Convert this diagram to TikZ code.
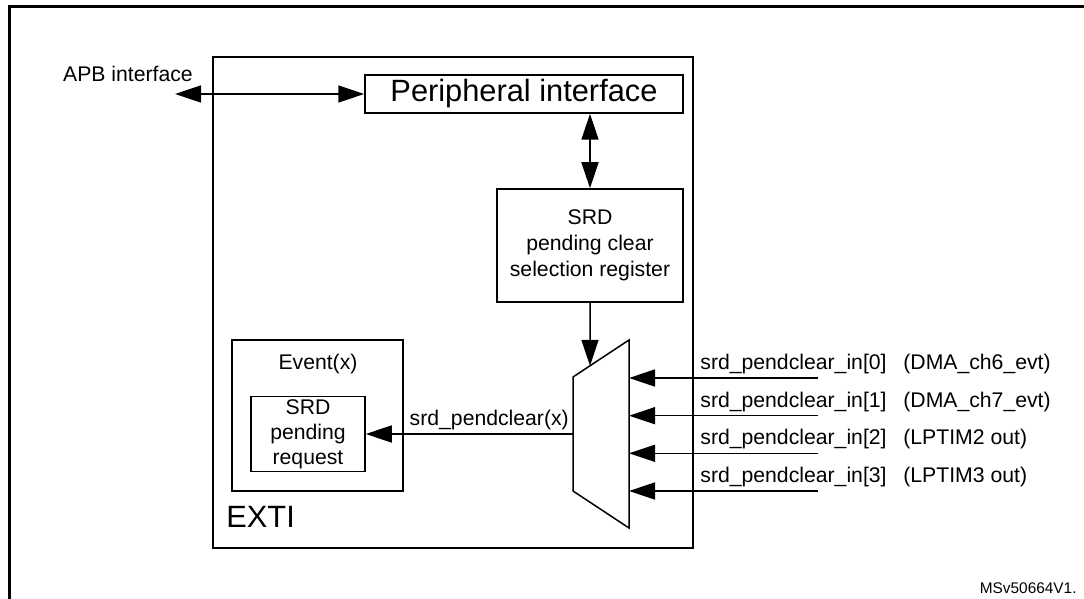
\documentclass[tikz,border=0pt]{standalone}
\usepackage{fontspec}
\setmainfont{Liberation Sans}
\usetikzlibrary{arrows.meta,calc}

\begin{document}
\begin{tikzpicture}[x=0.5pt,y=-0.5pt,line join=miter,
  box/.style={draw,line width=0.75pt,inner sep=0pt,align=center},
  sig/.style={line width=0.75pt,-{Triangle[length=13pt,width=8.5pt]}},
  bisig/.style={line width=0.75pt,{Triangle[length=13pt,width=8.5pt]}-{Triangle[length=13pt,width=8.5pt]}},
  lbl/.style={inner sep=0pt,font=\fontsize{10.6}{13}\selectfont},
  big/.style={inner sep=0pt,font=\fontsize{15.4}{18}\selectfont}]
  \useasboundingbox (0,0) rectangle (1084,599);
  \draw[line width=1.2pt] (9.5,599) |- (1084,6.7);
  \node[box,minimum width=240pt,minimum height=245.5pt] (exti) at (453,302.5) {};
  \node[big,anchor=base west] (extilbl) at (226,527) {EXTI};
  \node[box,big,minimum width=159pt,minimum height=19pt] (periph) at (524,94) {Peripheral interface};
  \node[box,lbl,minimum width=93pt,minimum height=56.5pt] (reg) at (590,245.5)
    {SRD\\pending clear\\selection register};
  \node[box,minimum width=85.5pt,minimum height=75.5pt] (event) at (317.5,415.5) {};
  \node[lbl,anchor=base] (eventlbl) at (318,370) {Event(x)};
  \node[box,lbl,minimum width=57pt,minimum height=37.5pt,font=\fontsize{10.6}{12.5}\selectfont]
    (pend) at (308,434) {SRD\\pending\\request};
  \coordinate (apb) at (175,94);
  \node[lbl,anchor=base] (apblbl) at (128,82) {APB interface};
  \draw[bisig] (apb) -- (periph.west);
  \draw[bisig] (reg.north |- periph.south) -- (reg.north);
  \coordinate (mux-tl) at (573,377);
  \coordinate (mux-tr) at (629,340);
  \coordinate (mux-br) at (629,528);
  \coordinate (mux-bl) at (573,491);
  \draw[line width=0.75pt] (mux-tl) -- (mux-tr) -- (mux-br) -- (mux-bl) -- cycle;
  \coordinate (muxsel) at ($(mux-tl)!0.3036!(mux-tr)$);
  \draw[sig] (reg.south) -- (muxsel);
  \coordinate (muxout) at (573,434);
  \draw[sig] (muxout) -- (pend.east)
    node[lbl,anchor=base,pos=0.404,yshift=4pt] (outlbl) {srd\_pendclear(x)};
  \foreach \i/\y/\src in {0/378/(DMA\_ch6\_evt),1/415.7/(DMA\_ch7\_evt),
                          2/453.3/(LPTIM2 out),3/491/(LPTIM3 out)} {
    \coordinate (in\i) at (818,\y);
    \coordinate (m\i) at (629,\y);
    \draw[sig] (in\i) -- (m\i);
    \node[lbl,anchor=base west] (inlbl\i) at (700,\y-8.5) {srd\_pendclear\_in[\i]};
    \node[lbl,anchor=base west] (srclbl\i) at (903,\y-8.5) {\src};
  }
  \node[inner sep=0pt,anchor=base east,font=\fontsize{7.7}{9}\selectfont] (ref) at (1077,593) {MSv50664V1.};
\end{tikzpicture}
\end{document}
